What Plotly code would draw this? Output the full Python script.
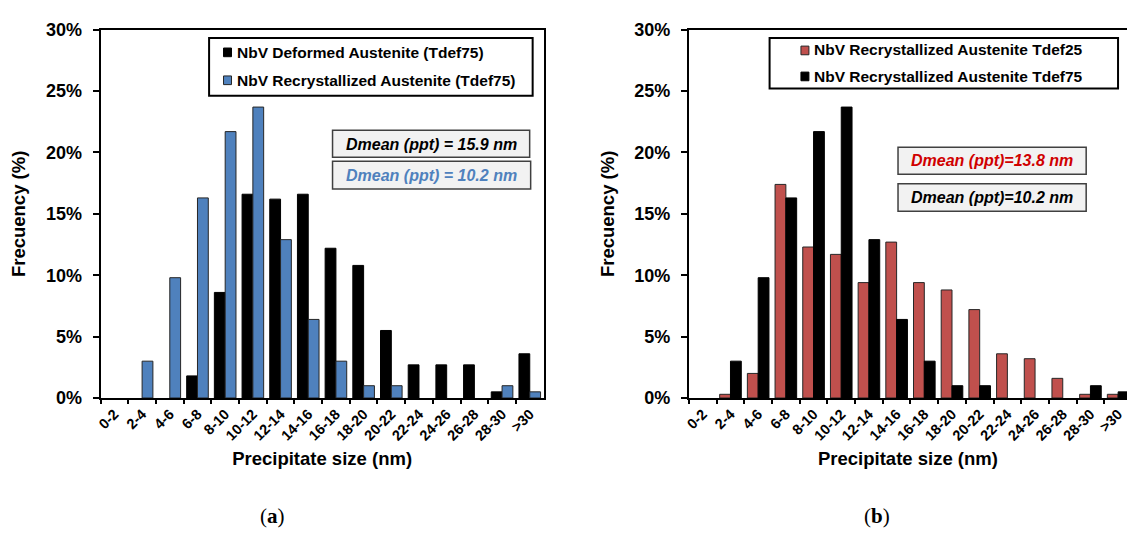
import plotly.graph_objects as go

# Precipitate size classes (nm)
size_bins = ["0-2", "2-4", "4-6", "6-8", "8-10", "10-12", "12-14", "14-16",
             "16-18", "18-20", "20-22", "22-24", "24-26", "26-28", "28-30", ">30"]

# Frequency of each size class (%)
deformed_tdef75 = [0, 0, 0, 1.8, 8.6, 16.6, 16.2, 16.6, 12.2, 10.8, 5.5, 2.7, 2.7, 2.7, 0.5, 3.6]
recryst_tdef75 = [0, 3.0, 9.8, 16.3, 21.7, 23.7, 12.9, 6.4, 3.0, 1.0, 1.0, 0, 0, 0, 1.0, 0.5]
recryst_tdef25 = [0, 0.3, 2.0, 17.4, 12.3, 11.7, 9.4, 12.7, 9.4, 8.8, 7.2, 3.6, 3.2, 1.6, 0.3, 0.3]

# Series names and mean-diameter notes
names_a = ["NbV Deformed Austenite (Tdef75)", "NbV Recrystallized Austenite (Tdef75)"]
names_b = ["NbV Recrystallized Austenite Tdef25", "NbV Recrystallized Austenite Tdef75"]
dmean_a = ["Dmean (ppt) = 15.9 nm", "Dmean (ppt) = 10.2 nm"]
dmean_b = ["Dmean (ppt)=13.8 nm", "Dmean (ppt)=10.2 nm"]
y_ticks = [0, 5, 10, 15, 20, 25, 30]
y_tick_text = [f"{v}%" for v in y_ticks]

W, H = 1127, 537
FONT = "Liberation Sans, Arial, sans-serif"
BLUE, RED, BLACK = "#4f81bd", "#c0504d", "#000000"
EDGE = "#262626"


def px(x):
    return x / W


def py(y):
    return 1 - y / H


def bar(values, name, color, edge, xa, ya):
    # empty classes get no outline so nothing shows on the baseline
    widths = [1 if v > 0 else 0 for v in values]
    return go.Bar(x=size_bins, y=values, name=name,
                  marker=dict(color=color, line=dict(color=edge, width=widths)),
                  xaxis=xa, yaxis=ya, showlegend=False)


fig = go.Figure()
fig.add_trace(bar(deformed_tdef75, names_a[0], BLACK, BLACK, "x", "y"))
fig.add_trace(bar(recryst_tdef75, names_a[1], BLUE, EDGE, "x", "y"))
fig.add_trace(bar(recryst_tdef25, names_b[0], RED, EDGE, "x2", "y2"))
fig.add_trace(bar(recryst_tdef75, names_b[1], BLACK, BLACK, "x2", "y2"))

n_cat = len(size_bins)
cat_w = (541 - 96) / n_cat
right_span = (W - 687) / cat_w

xcommon = dict(type="category", showline=True, linecolor="black", linewidth=2,
               ticks="outside", ticklen=4, tickwidth=2, tickcolor="black",
               tickson="boundaries", tickangle=-45, showgrid=False,
               tickfont=dict(family=FONT, size=14.5, color="black", weight="bold"),
               title=dict(text="Precipitate size (nm)", standoff=9,
                          font=dict(family=FONT, size=18.5, color="black", weight="bold")))
ycommon = dict(range=[0, 30], tickvals=y_ticks, ticktext=y_tick_text, showline=True,
               linecolor="black", linewidth=2, ticks="outside", ticklen=6,
               tickwidth=2, tickcolor="black", showgrid=False, zeroline=False,
               ticklabelstandoff=7,
               tickfont=dict(family=FONT, size=18, color="black", weight="bold"),
               title=dict(text="Frecuency (%)", standoff=15,
                          font=dict(family=FONT, size=18.5, color="black", weight="bold")))

fig.update_layout(
    width=W, height=H, margin=dict(l=0, r=0, t=0, b=0),
    paper_bgcolor="white", plot_bgcolor="white",
    barmode="group", bargap=0.22, bargroupgap=0,
    xaxis=dict(domain=[px(96), px(541)], range=[-0.5, n_cat - 0.5], mirror=True,
               anchor="y", **xcommon),
    yaxis=dict(domain=[py(403), py(20.5)], mirror=True, anchor="x", **ycommon),
    xaxis2=dict(domain=[px(687), 1], range=[-0.5, -0.5 + right_span], mirror=True,
                anchor="y2", **xcommon),
    yaxis2=dict(domain=[py(403), py(20.5)], mirror=False, anchor="x2", **ycommon),
)

shapes = []
annots = []


def rect(x0, y0, x1, y1, fill, line, lw):
    shapes.append(dict(type="rect", xref="paper", yref="paper",
                       x0=px(x0), x1=px(x1), y0=py(y1), y1=py(y0),
                       fillcolor=fill, line=dict(color=line, width=lw)))


def label(x, y, text, size, color="black", xanchor="left", italic=False, family=FONT):
    annots.append(dict(xref="paper", yref="paper", x=px(x), y=py(y), text=text,
                       showarrow=False, xanchor=xanchor, yanchor="middle",
                       font=dict(family=family, size=size, color=color, weight="bold",
                                 style="italic" if italic else "normal")))


# Legend (a)
rect(205, 29, 530, 89, "white", "black", 2)
rect(219.5, 39.5, 227.5, 48.5, BLACK, BLACK, 1)
rect(219.5, 68.5, 227.5, 77.5, BLUE, EDGE, 1)
label(231, 44, names_a[0], 15.5)
label(231, 73, names_a[1], 15.5)

# Legend (b)
rect(768, 29, 1118, 81.5, "white", "black", 2)
rect(799.5, 37.5, 807.5, 46.5, RED, EDGE, 1)
rect(799.5, 64.5, 807.5, 73.5, BLACK, BLACK, 1)
label(811, 41.5, names_b[0], 15.5)
label(811, 69, names_b[1], 15.5)

# Mean diameter boxes (a)
rect(329, 125, 527, 153, "#f2f2f2", "#404040", 1.5)
rect(329, 157, 528, 186, "#f2f2f2", "#404040", 1.5)
label(428, 139.5, dmean_a[0], 16, BLACK, "center", True)
label(428, 171.5, dmean_a[1], 16, "#4f81bd", "center", True)

# Mean diameter boxes (b)
rect(897, 142.5, 1086, 170.5, "#f2f2f2", "#404040", 1.5)
rect(897, 180.5, 1086, 209, "#f2f2f2", "#404040", 1.5)
label(991.5, 156.5, dmean_b[0], 16, "#d00000", "center", True)
label(991.5, 194.5, dmean_b[1], 16, BLACK, "center", True)

# Panel captions
for cx, letter in ((269, "a"), (876, "b")):
    annots.append(dict(xref="paper", yref="paper", x=px(cx), y=py(526),
                       text=f"(<b>{letter}</b>)", showarrow=False,
                       xanchor="center", yanchor="middle",
                       font=dict(family="Liberation Serif, serif", size=21, color="black")))

fig.update_layout(shapes=shapes, annotations=annots)

fig.write_html("out.html")
